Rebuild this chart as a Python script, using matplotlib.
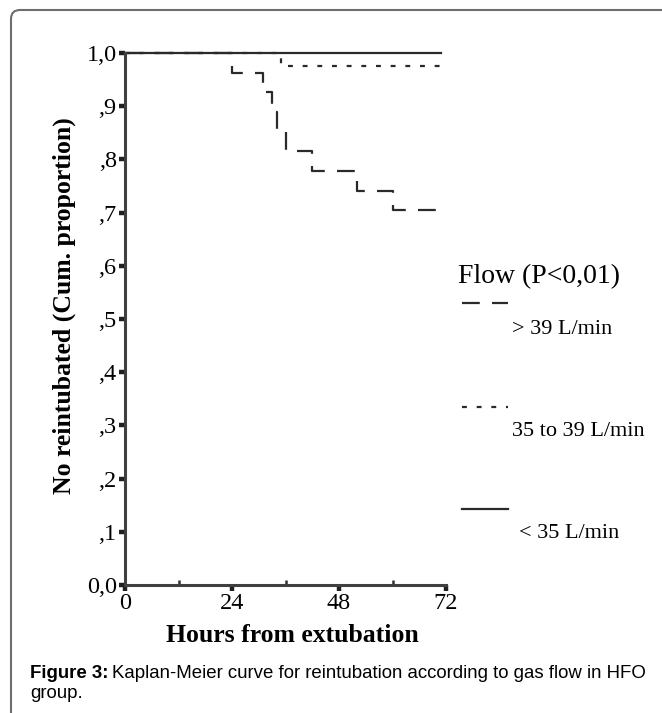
import matplotlib
matplotlib.use('Agg')
import matplotlib.pyplot as plt
from matplotlib.lines import Line2D
from matplotlib.patches import FancyBboxPatch

plt.rcParams['font.family'] = ['Liberation Serif', 'DejaVu Serif']

# Kaplan-Meier steps
hours_high = [0, 24, 31, 33, 34, 36, 42, 52, 60, 70.5]
surv_high = [1.0, 0.963, 0.926, 0.889, 0.852, 0.815, 0.778, 0.741, 0.704, 0.704]
hours_mid = [0, 35, 70.8]
surv_mid = [1.0, 0.976, 0.976]
hours_low = [0, 70.8]
surv_low = [1.0, 1.0]

x_ticks = [0, 24, 48, 72]
x_minor = [12, 36, 60]
y_ticks = [0.0, 0.1, 0.2, 0.3, 0.4, 0.5, 0.6, 0.7, 0.8, 0.9, 1.0]
y_labels = ['0,0', ',1', ',2', ',3', ',4', ',5', ',6', ',7', ',8', ',9', '1,0']
legend_title = 'Flow (P<0,01)'
legend_labels = ['> 39 L/min', '35 to 39 L/min', '< 35 L/min']

W, H = 662, 713
fig = plt.figure(figsize=(W / 100, H / 100), dpi=100)
fig.patch.set_facecolor('white')

def fx(px):
    return px / W

def fy(py):
    return 1 - py / H

ax = fig.add_axes([fx(125), fy(585), fx(446) - fx(125), fy(53) - fy(585)])
ax.set_xlim(0, 72)
ax.set_ylim(0, 1.0)

line_col = '#2a2a2a'
dash_high = (0, (8, 5.5))
dash_mid = (0, (2.2, 4.4))
ax.step(hours_high, surv_high, where='post', color=line_col, lw=1.6,
        linestyle=dash_high, clip_on=False)
ax.step(hours_mid, surv_mid, where='post', color=line_col, lw=1.6,
        linestyle=dash_mid, clip_on=False)
ax.step(hours_low, surv_low, where='post', color=line_col, lw=1.6,
        clip_on=False)

for s in ['top', 'right']:
    ax.spines[s].set_visible(False)
for s in ['left', 'bottom']:
    ax.spines[s].set_color('#404040')
    ax.spines[s].set_linewidth(2.2)

ax.set_xticks(x_ticks)
ax.set_xticks(x_minor, minor=True)
ax.set_yticks(y_ticks)
ax.set_yticklabels(y_labels)
ax.tick_params(axis='both', which='major', direction='out', length=4,
               width=3.2, color='#202020', labelsize=17.5, pad=2)
ax.tick_params(axis='x', which='minor', direction='in', length=3.5,
               width=1.8, color='#303030')
ax.tick_params(axis='y', which='minor', left=False)

fig.text(fx(292), fy(635), 'Hours from extubation', fontsize=18.5,
         fontweight='bold', ha='center', va='center')
fig.text(fx(64), fy(306), 'No reintubated (Cum. proportion)', fontsize=18.5,
         fontweight='bold', ha='center', va='center', rotation=90)

# legend drawn by hand, label sits below and right of its line
fig.text(fx(539), fy(277), legend_title, fontsize=20, ha='center', va='center')
styles = [dash_high, dash_mid, '-']
line_y = [303, 407, 509]
label_pos = [(512, 329), (512, 432), (519, 533)]
for st, ly, lab, (lx, lyy) in zip(styles, line_y, legend_labels, label_pos):
    fig.add_artist(Line2D([fx(462), fx(508)], [fy(ly), fy(ly)], color=line_col,
                          lw=1.6, linestyle=st))
    fig.text(fx(lx), fy(lyy), lab, fontsize=16, ha='left', va='center')

# caption
cap_font = ['Liberation Sans', 'DejaVu Sans']
cap_size = 13.4
t1 = fig.text(fx(30), fy(673), 'Figure 3:', fontsize=cap_size, fontweight='bold',
              family=cap_font, ha='left', va='center')
fig.canvas.draw()
bb = t1.get_window_extent()
fig.text((bb.x1 + 4) / W, fy(673),
         'Kaplan-Meier curve for reintubation according to gas flow in HFO',
         fontsize=cap_size, family=cap_font, ha='left', va='center')
fig.text(fx(30), fy(694), 'group.', fontsize=cap_size, family=cap_font,
         ha='left', va='center')

# rounded frame round the figure, open at right and bottom
frame = FancyBboxPatch((11, -30), 720, H - 10 + 30,
                       boxstyle='round,pad=0,rounding_size=9',
                       transform=None, fill=False, edgecolor='#6e6e6e', lw=1.5)
fig.add_artist(frame)

fig.savefig('out.png', dpi=100)
plt.close(fig)
